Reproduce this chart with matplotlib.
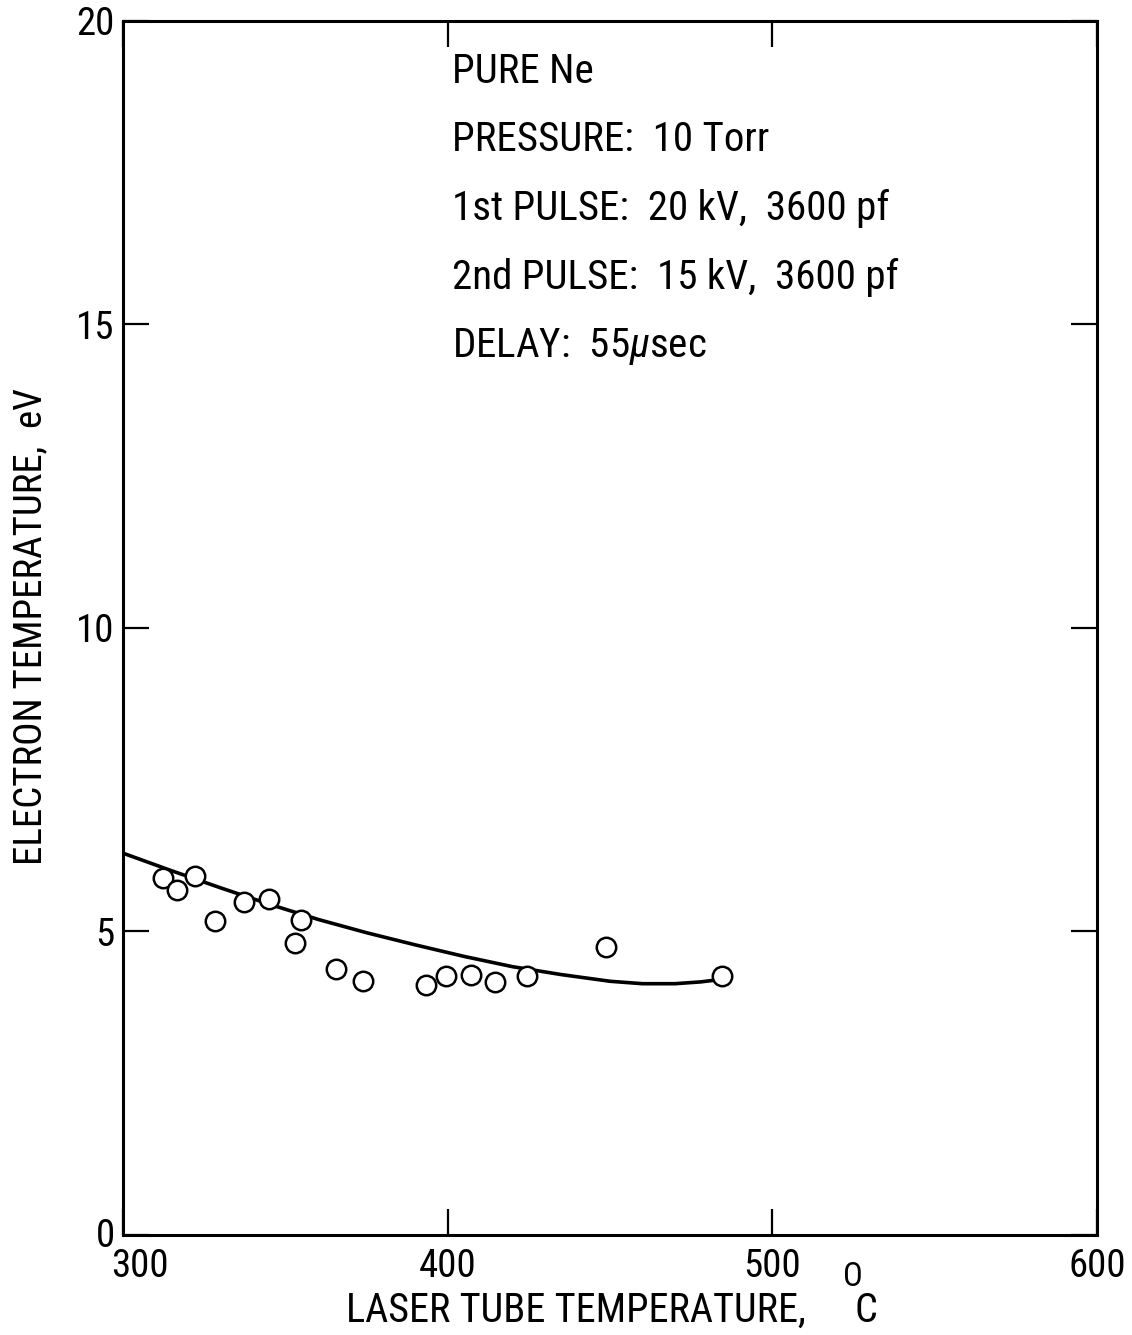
import matplotlib.pyplot as plt
import matplotlib.transforms as mtrans
from matplotlib import font_manager

# measured electron temperature vs laser tube temperature
tube_temp = [312.4, 316.5, 322.2, 328.3, 337.3, 345.0, 354.8, 353.0, 365.6,
             374.0, 393.3, 399.5, 407.1, 414.6, 424.5, 448.8, 484.4]
electron_temp = [5.88, 5.68, 5.91, 5.18, 5.49, 5.54, 5.19, 4.81, 4.39,
                 4.19, 4.12, 4.26, 4.28, 4.17, 4.27, 4.75, 4.26]

# hand-drawn trend curve
curve_x = [300, 315, 330, 345, 360, 375, 390, 405, 420, 435, 450, 460, 470, 478, 484]
curve_y = [6.29, 6.00, 5.72, 5.45, 5.20, 4.98, 4.78, 4.59, 4.42, 4.29, 4.18, 4.14, 4.14, 4.17, 4.21]

x_ticks = [300, 400, 500, 600]
y_ticks = [0, 5, 10, 15, 20]

info_lines = [
    "PURE Ne",
    "PRESSURE:  10 Torr",
    "1st PULSE:  20 kV,  3600 pf",
    "2nd PULSE:  15 kV,  3600 pf",
    "DELAY:  55$\\mu$sec",
]

# pick a narrow sans if one is around
fonts = font_manager.fontManager.ttflist
names = {f.name for f in fonts}
stretch = 'normal'
size = 24
if 'Liberation Sans Narrow' in names:
    family = ['Liberation Sans Narrow', 'DejaVu Sans']
    size = 28
elif 'Roboto Condensed' in names:
    family = ['Roboto Condensed', 'DejaVu Sans']
    size = 28
elif any(f.name == 'DejaVu Sans' and f.stretch == 'condensed' for f in fonts):
    family = ['DejaVu Sans']
    stretch = 'condensed'
    size = 26
else:
    family = ['DejaVu Sans']
plt.rcParams['font.family'] = family
plt.rcParams['font.stretch'] = stretch
plt.rcParams['mathtext.fontset'] = 'custom'
plt.rcParams['mathtext.rm'] = family[0]
plt.rcParams['mathtext.it'] = family[0] + ':italic'

fig = plt.figure(figsize=(11.32, 13.35), dpi=100)
ax = fig.add_axes([0.1087, 0.0749, 0.8604, 0.9094])

ax.plot(curve_x, curve_y, color='black', linewidth=2.6, zorder=2)
ax.plot(tube_temp, electron_temp, linestyle='none', marker='o', markersize=14,
        markerfacecolor='white', markeredgecolor='black', markeredgewidth=1.8, zorder=3)

ax.set_xlim(300, 600)
ax.set_ylim(0, 20)
ax.set_xticks(x_ticks)
ax.set_yticks(y_ticks)
ax.set_xticklabels([str(v) for v in x_ticks])
ax.set_yticklabels([str(v) for v in y_ticks])
ax.tick_params(direction='in', length=19, width=1.6, labelsize=size,
               top=True, right=True, pad=6)
ax.tick_params(axis='x', pad=9)
for s in ax.spines.values():
    s.set_linewidth(2.2)

# nudge the corner labels apart
xl = ax.get_xticklabels()
xl[0].set_transform(xl[0].get_transform() + mtrans.ScaledTranslation(0.17, 0, fig.dpi_scale_trans))
yl = ax.get_yticklabels()
yl[0].set_transform(yl[0].get_transform() + mtrans.ScaledTranslation(0, 0.03, fig.dpi_scale_trans))

for i, line in enumerate(info_lines):
    ax.text(401.3, 18.98 - i * 1.13, line, fontsize=size + 1.5, ha='left', va='baseline')

# x label with a raised O as the degree mark
fig.text(0.3057, 0.0097, "LASER TUBE TEMPERATURE,", fontsize=size + 1,
         ha='left', va='baseline')
fig.text(0.7553, 0.0097, "C", fontsize=size + 1, ha='left', va='baseline')
fig.text(0.7450, 0.0365, "O", fontsize=size * 0.85, ha='left', va='baseline')

fig.text(0.027, 0.531, "ELECTRON TEMPERATURE,  eV", fontsize=size, rotation=90,
         ha='center', va='center')

fig.savefig('out.png', dpi=100)
